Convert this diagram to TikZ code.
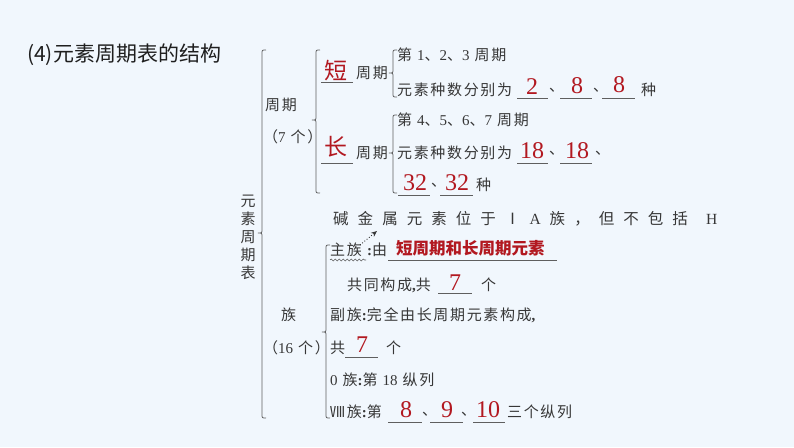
\documentclass[tikz,border=0pt]{standalone}
\usepackage{fontspec}
\setmainfont{Noto Sans CJK SC}[LetterSpace=11]
\newfontfamily\lat{Liberation Serif}
\newfontfamily\plain{Noto Sans CJK SC}
\usetikzlibrary{decorations.pathmorphing,arrows.meta}
\definecolor{bg}{RGB}{241,247,253}
\definecolor{ink}{RGB}{55,55,55}
\definecolor{ans}{RGB}{178,24,32}
\definecolor{lin}{RGB}{95,95,95}
\newcommand\mybrace[5]{%
  \draw[bracestyle] (#1+#5,#2) .. controls (#1,#2) .. (#1,#2+#5) -- (#1,#3-#5)
    .. controls (#1,#3) .. (#1-#5,#3) .. controls (#1,#3) .. (#1,#3+#5)
    -- (#1,#4-#5) .. controls (#1,#4) .. (#1+#5,#4);}
\tikzset{
  txt/.style={anchor=west,inner sep=0pt,text=ink,font=\fontsize{15}{15}\selectfont},
  dun/.style={anchor=west,inner sep=0pt,text=ink,font=\plain\fontsize{15}{15}\selectfont},
  bigred/.style={inner sep=0pt,text=ans,font=\plain\fontsize{23}{23}\selectfont},
  num/.style={inner sep=0pt,text=ans,font=\lat\fontsize{24}{24}\selectfont},
  uline/.style={draw=lin,line width=0.7pt},
  bracestyle/.style={draw=lin,line width=0.8pt},
}
\begin{document}
\begin{tikzpicture}[x=1pt,y=-1pt]
\fill[bg] (0,0) rectangle (794,447);
\useasboundingbox (0,0) rectangle (794,447);
% title
\node[anchor=west,inner sep=0pt,text=black!88,font=\plain\fontsize{21}{21}\selectfont] (title) at (27,55) {(4)元素周期表的结构};
% braces
\mybrace{262}{50}{233}{418}{4}
\mybrace{316}{50}{120}{193}{4}
\mybrace{393}{50}{73}{97}{4}
\mybrace{393}{115}{153}{193}{4}
\mybrace{326}{245}{332}{418}{4}
% vertical label
\node[inner sep=0pt,text=ink,font=\plain\fontsize{15}{18}\selectfont,align=center] (yszq) at (248,237) {元\\素\\周\\期\\表};
% period part
\node[txt] (zq) at (265,105) {周期};
\node[txt] (zq7) at (263,137) {（{\lat 7} 个）};
\node[bigred] (duan) at (336,71) {短};
\draw[uline] (321,82) -- (353,82);
\node[txt] (duanzq) at (356,73) {周期};
\node[txt] (d1) at (397,55) {第 {\lat 1}、{\lat 2}、{\lat 3} 周期};
\node[txt] (d2) at (397,90) {元素种数分别为};
\node[num] (n2) at (532,87) {2};
\draw[uline] (517,98) -- (548,98);
\node[dun] at (549,90) {、};
\node[num] (n8a) at (577,86) {8};
\draw[uline] (560,98) -- (592,98);
\node[dun] at (593,90) {、};
\node[num] (n8b) at (619,85) {8};
\draw[uline] (602,98) -- (635,98);
\node[txt] at (641,90) {种};
\node[bigred] (chang) at (336,147) {长};
\draw[uline] (321,163) -- (353,163);
\node[txt] (changzq) at (356,153) {周期};
\node[txt] (c1) at (397,120) {第 {\lat 4}、{\lat 5}、{\lat 6}、{\lat 7} 周期};
\node[txt] (c2) at (397,153) {元素种数分别为};
\node[num] (n18a) at (532,151) {18};
\draw[uline] (517,163) -- (548,163);
\node[dun] at (549,153) {、};
\node[num] (n18b) at (577,151) {18};
\draw[uline] (560,163) -- (592,163);
\node[dun] at (595,153) {、};
\node[num] (n32a) at (415,183) {32};
\draw[uline] (398,195) -- (430,195);
\node[dun] at (431,185) {、};
\node[num] (n32b) at (457,183) {32};
\draw[uline] (440,195) -- (473,195);
\node[txt] at (476,185) {种};
% annotation
\node[anchor=west,inner sep=0pt,text=ink,font=\plain\fontsize{15.5}{15.5}\selectfont] (note) at (333,219)
  {\makebox[384pt][s]{碱\hfill 金\hfill 属\hfill 元\hfill 素\hfill 位\hfill 于\hfill Ⅰ\hfill {\lat A}\hfill 族\hfill ，\hfill 但\hfill 不\hfill 包\hfill 括\hfill\hfill {\lat H}}};
% group part
\node[txt] (zu) at (281,315) {族};
\node[txt] (zu16) at (263,348) {（{\lat 16} 个）};
\node[txt] (zhuzu) at (330,250) {主族};
\node[txt] (you) at (367,250) {{\lat\bfseries :}由};
\draw[lin,line width=0.6pt,decorate,decoration={snake,amplitude=1pt,segment length=4pt}] (330,260) -- (366,260);
\coordinate (arrS) at (360,245);
\coordinate (arrE) at (377,231);
\draw[ink,dotted,line width=0.9pt,-{Stealth[length=6pt,width=5pt]}] (arrS) -- (arrE);
\node[anchor=west,inner sep=0pt,text=ans,font=\plain\bfseries\fontsize{16.5}{17}\selectfont] (zhuans) at (396,248) {短周期和长周期元素};
\draw[uline] (388,260) -- (557,260);
\node[txt] (gt) at (347,285) {共同构成{\lat\bfseries ,}共};
\node[num] (n7a) at (455,283) {7};
\draw[uline] (438,293) -- (472,293);
\node[txt] at (481,285) {个};
\node[txt] (fuzu) at (330,315) {副族{\lat\bfseries :}完全由长周期元素构成{\lat\bfseries ,}};
\node[txt] (gong) at (330,348) {共};
\node[num] (n7b) at (362,345) {7};
\draw[uline] (345,357) -- (378,357);
\node[txt] at (386,348) {个};
\node[txt] (ling) at (330,380) {{\lat 0} 族{\lat\bfseries :}第 {\lat 18} 纵列};
\node[txt] (ba) at (330,412) {Ⅷ族{\lat\bfseries :}第};
\node[num] (n8c) at (406,410) {8};
\draw[uline] (388,422) -- (422,422);
\node[dun] at (422,414) {、};
\node[num] (n9) at (447,410) {9};
\draw[uline] (430,422) -- (463,422);
\node[dun] at (461,414) {、};
\node[num] (n10) at (488,410) {10};
\draw[uline] (473,422) -- (505,422);
\node[txt] (sange) at (507,412) {三个纵列};
\end{tikzpicture}
\end{document}
